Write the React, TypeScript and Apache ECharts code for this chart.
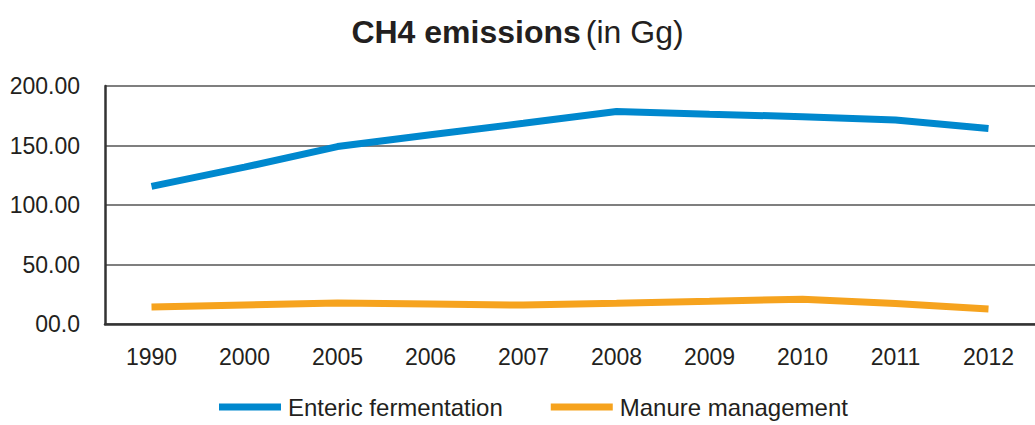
import React, { useEffect, useRef } from "react";
import * as echarts from "echarts";

const years = ["1990", "2000", "2005", "2006", "2007", "2008", "2009", "2010", "2011", "2012"];
const enteric = [115.6, 131.8, 149.1, 159.0, 168.7, 178.5, 176.3, 174.2, 171.5, 164.2];
const manure = [14.2, 16.0, 17.6, 16.8, 15.9, 17.4, 19.1, 20.9, 17.3, 12.6];
const seriesNames = ["Enteric fermentation", "Manure management"];

const FONT = "'Liberation Sans', Arial, sans-serif";

export default function App() {
  const ref = useRef<HTMLDivElement>(null);
  useEffect(() => {
    if (!ref.current) return;
    const chart = echarts.init(ref.current, undefined, { renderer: "svg" });
    chart.setOption({
      animation: false,
      backgroundColor: "#ffffff",
      title: {
        text: "{b|CH4 emissions} {n|(in Gg)}",
        left: "center",
        top: 11,
        textStyle: {
          rich: {
            b: { fontFamily: FONT, fontWeight: "bold", fontSize: 32, color: "#231f20" },
            n: { fontFamily: FONT, fontWeight: "normal", fontSize: 32, color: "#231f20" },
          },
        },
      },
      legend: {
        data: seriesNames,
        bottom: 1,
        left: 214,
        icon: "rect",
        itemWidth: 62,
        itemHeight: 7,
        itemGap: 48,
        textStyle: { fontFamily: FONT, fontSize: 24, color: "#231f20", padding: [0, 0, 0, 2] },
      },
      grid: { left: 105, right: -10, top: 86, bottom: 101 },
      xAxis: {
        type: "category",
        data: years,
        boundaryGap: true,
        axisLine: { lineStyle: { color: "#333", width: 2.5 } },
        axisTick: { show: false },
        axisLabel: { fontFamily: FONT, fontSize: 23, color: "#231f20", margin: 21 },
        splitLine: { show: false },
      },
      yAxis: {
        type: "value",
        min: 0,
        max: 200,
        interval: 50,
        axisLine: { show: true, lineStyle: { color: "#333", width: 2.5 } },
        axisTick: { show: false },
        axisLabel: {
          fontFamily: FONT,
          fontSize: 23,
          color: "#231f20",
          margin: 25,
          formatter: (v: number) => (v === 0 ? "00.0" : v.toFixed(2)),
        },
        splitLine: { lineStyle: { color: "#7f7f7f", width: 2 } },
      },
      series: [
        {
          name: seriesNames[0],
          type: "line",
          data: enteric,
          showSymbol: false,
          symbol: "none",
          lineStyle: { color: "#0088ce", width: 7 },
          itemStyle: { color: "#0088ce" },
        },
        {
          name: seriesNames[1],
          type: "line",
          data: manure,
          showSymbol: false,
          symbol: "none",
          lineStyle: { color: "#f6a31e", width: 7 },
          itemStyle: { color: "#f6a31e" },
        },
      ],
    });
    return () => chart.dispose();
  }, []);
  return <div ref={ref} style={{ width: 1035, height: 425, position: "absolute", left: 0, top: 0 }} />;
}
